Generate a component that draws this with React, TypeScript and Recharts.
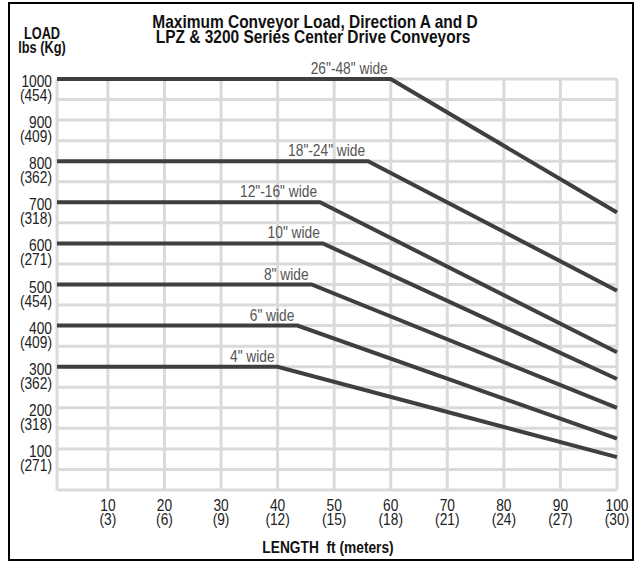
import React from 'react';
import { LineChart, Line, XAxis, YAxis, CartesianGrid } from 'recharts';

// Conveyor width classes and their load curves
const widthLabels = ['26"-48" wide', '18"-24" wide', '12"-16" wide', '10" wide', '8" wide', '6" wide', '4" wide'];
const maxLoadLbs = [1000, 800, 700, 600, 500, 400, 300];
const breakLengthFt = [60, 56, 47.5, 48, 46, 43.5, 40];
const loadAt100Ft = [675, 485, 335, 270, 200, 125, 80];
const startLengthFt = 1;
const endLengthFt = 100;

// Axis ticks and labels
const yTicks = [0, 50, 100, 150, 200, 250, 300, 350, 400, 450, 500, 550, 600, 650, 700, 750, 800, 850, 900, 950, 1000];
const yLabelLbs = [1000, 900, 800, 700, 600, 500, 400, 300, 200, 100];
const yLabelKg = ['(454)', '(409)', '(362)', '(318)', '(271)', '(454)', '(409)', '(362)', '(318)', '(271)'];
const xTicks = [1, 10, 20, 30, 40, 50, 60, 70, 80, 90, 100];
const xLabelFt = [10, 20, 30, 40, 50, 60, 70, 80, 90, 100];
const xLabelM = ['(3)', '(6)', '(9)', '(12)', '(15)', '(18)', '(21)', '(24)', '(27)', '(30)'];

const series = widthLabels.map((name, i) => ({
  name,
  data: [
    { x: startLengthFt, y: maxLoadLbs[i] },
    { x: breakLengthFt[i], y: maxLoadLbs[i] },
    { x: endLengthFt, y: loadAt100Ft[i] },
  ],
}));

const FONT = '"Liberation Sans", Arial, Helvetica, sans-serif';

const NText = ({ x, y, anchor = 'start', size = 16, weight = 'normal', fill = '#222', sx = 0.86, children }: any) => (
  <g transform={`translate(${x},${y}) scale(${sx},1)`}>
    <text x={0} y={0} textAnchor={anchor} fontFamily={FONT} fontSize={size} fontWeight={weight} fill={fill} style={{ whiteSpace: 'pre' }}>
      {children}
    </text>
  </g>
);

const YTick = (props: any) => {
  const { x, y, payload } = props;
  const idx = yLabelLbs.indexOf(payload.value);
  if (idx < 0) return <g />;
  return (
    <g>
      <NText x={x} y={y + 8} anchor="end" size={16}>{yLabelLbs[idx]}</NText>
      <NText x={x} y={y + 22} anchor="end" size={16}>{yLabelKg[idx]}</NText>
    </g>
  );
};

const XTick = (props: any) => {
  const { x, y, payload } = props;
  const idx = xLabelFt.indexOf(payload.value);
  if (idx < 0) return <g />;
  return (
    <g>
      <NText x={x} y={y + 21} anchor="middle" size={16}>{xLabelFt[idx]}</NText>
      <NText x={x} y={y + 35} anchor="middle" size={16}>{xLabelM[idx]}</NText>
    </g>
  );
};

const makeLabel = (text: string) => (props: any) => {
  const { x, y, index } = props;
  if (index !== 1) return <g />;
  return (
    <NText x={x - 3} y={y - 5} anchor="end" size={16} fill="#555">{text}</NText>
  );
};

export default function App() {
  return (
    <div style={{ position: 'absolute', left: 0, top: 0, width: 635, height: 562, background: '#fff' }}>
      <LineChart
        width={635}
        height={562}
        margin={{ top: 79, left: 7, right: 18, bottom: 32 }}
      >
        <CartesianGrid stroke="#dadada" strokeWidth={3} />
        <XAxis
          type="number"
          dataKey="x"
          domain={[startLengthFt, endLengthFt]}
          ticks={xTicks}
          tick={XTick}
          axisLine={false}
          tickLine={false}
          tickSize={0}
          tickMargin={0}
          height={40}
          interval={0}
        />
        <YAxis
          type="number"
          dataKey="y"
          domain={[0, 1000]}
          ticks={yTicks}
          tick={YTick}
          axisLine={false}
          tickLine={false}
          tickSize={0}
          tickMargin={5}
          width={50}
          interval={0}
        />
        {series.map((s) => (
          <Line
            key={s.name}
            data={s.data}
            dataKey="y"
            type="linear"
            stroke="#3f3f3f"
            strokeWidth={4}
            dot={false}
            isAnimationActive={false}
            label={makeLabel(s.name)}
          />
        ))}
      </LineChart>
      <svg width={635} height={562} style={{ position: 'absolute', left: 0, top: 0, pointerEvents: 'none' }}>
        <rect x={9} y={3} width={624} height={557} fill="none" stroke="#000" strokeWidth={2} />
        <NText x={315} y={28} anchor="middle" size={18} weight="bold" fill="#111">Maximum Conveyor Load, Direction A and D</NText>
        <NText x={313} y={43} anchor="middle" size={18} weight="bold" fill="#111">LPZ &amp; 3200 Series Center Drive Conveyors</NText>
        <NText x={42} y={39} anchor="middle" size={16} weight="bold" fill="#111" sx={0.8}>LOAD</NText>
        <NText x={42} y={53} anchor="middle" size={16} weight="bold" fill="#111" sx={0.8}>lbs (Kg)</NText>
        <NText x={328} y={553} anchor="middle" size={16} weight="bold" fill="#111">LENGTH  ft (meters)</NText>
      </svg>
    </div>
  );
}
